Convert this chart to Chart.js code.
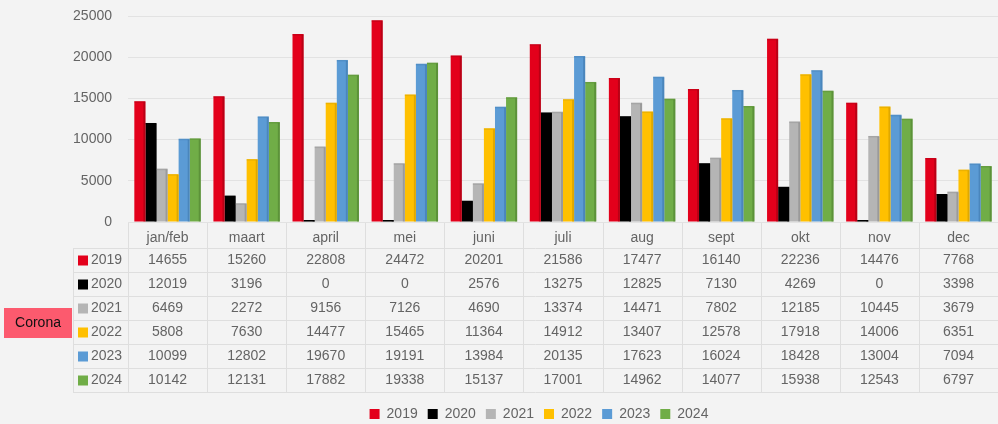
<!DOCTYPE html>
<html>
<head>
<meta charset="utf-8">
<script src="https://cdn.jsdelivr.net/npm/chart.js@4.4.1/dist/chart.umd.min.js"></script>
<style>
  html, body { margin: 0; padding: 0; background: #f3f3f3; }
  #wrap { width: 998px; height: 424px; }
</style>
</head>
<body>
<div id="wrap"><canvas id="c" width="998" height="424"></canvas></div>
<script>
const categories = ['jan/feb', 'maart', 'april', 'mei', 'juni', 'juli', 'aug', 'sept', 'okt', 'nov', 'dec'];
const years = ['2019', '2020', '2021', '2022', '2023', '2024'];
const v2019 = [14655, 15260, 22808, 24472, 20201, 21586, 17477, 16140, 22236, 14476, 7768];
const v2020 = [12019, 3196, 0, 0, 2576, 13275, 12825, 7130, 4269, 0, 3398];
const v2021 = [6469, 2272, 9156, 7126, 4690, 13374, 14471, 7802, 12185, 10445, 3679];
const v2022 = [5808, 7630, 14477, 15465, 11364, 14912, 13407, 12578, 17918, 14006, 6351];
const v2023 = [10099, 12802, 19670, 19191, 13984, 20135, 17623, 16024, 18428, 13004, 7094];
const v2024 = [10142, 12131, 17882, 19338, 15137, 17001, 14962, 14077, 15938, 12543, 6797];
const seriesValues = [v2019, v2020, v2021, v2022, v2023, v2024];
const colors = ['#e3001b', '#000000', '#b5b5b5', '#ffc000', '#5b9bd5', '#70ad47'];
const sideColors = ['#9e0013', '#000000', '#888888', '#c99700', '#3f78ab', '#4f8030'];
const noteLabel = 'Corona';
const yMax = 25000, yStep = 5000;

const FONT = '"Liberation Sans", Arial, sans-serif';
const TEXT = '#646464';

const bgPlugin = {
  id: 'bg',
  beforeDraw(chart) {
    const ctx = chart.ctx;
    ctx.save();
    ctx.fillStyle = '#f3f3f3';
    ctx.fillRect(0, 0, chart.width, chart.height);
    ctx.restore();
  }
};

const legendShift = {
  id: 'legendShift',
  afterLayout(chart) {
    const lg = chart.legend;
    if (!lg) return;
    lg.left += 40; lg.right += 40;
    lg.top += 9; lg.bottom += 9;
  }
};

const shadePlugin = {
  id: 'shade',
  afterDatasetsDraw(chart) {
    const ctx = chart.ctx;
    ctx.save();
    chart.data.datasets.forEach((ds, di) => {
      const meta = chart.getDatasetMeta(di);
      meta.data.forEach(bar => {
        const w = bar.width;
        const right = bar.x + w / 2;
        const h = bar.base - bar.y;
        if (h <= 0) return;
        ctx.fillStyle = sideColors[di];
        ctx.globalAlpha = 0.6;
        ctx.fillRect(right - 2, bar.y + 1, 2, h - 1);
        ctx.globalAlpha = 0.35;
        ctx.fillRect(bar.x - w / 2, bar.y, w, 1.5);
        ctx.globalAlpha = 1;
      });
    });
    ctx.restore();
  }
};

const tablePlugin = {
  id: 'dataTable',
  afterDraw(chart) {
    const ctx = chart.ctx;
    const x = chart.scales.x;
    const area = chart.chartArea;
    const n = categories.length;
    const cw = (area.right - area.left) / n;
    const top = area.bottom + 1;
    const headH = 25, rowH = 24;
    const tableTop = top + headH;
    const tableBottom = tableTop + rowH * years.length;
    const labelLeft = 73;
    ctx.save();
    ctx.strokeStyle = '#dedede';
    ctx.lineWidth = 1;
    for (let i = 0; i <= n; i++) {
      const xx = Math.round(area.left + i * cw) + 0.5;
      ctx.beginPath();
      ctx.moveTo(xx, top);
      ctx.lineTo(xx, tableBottom);
      ctx.stroke();
    }
    ctx.beginPath();
    ctx.moveTo(labelLeft + 0.5, tableTop);
    ctx.lineTo(labelLeft + 0.5, tableBottom);
    ctx.stroke();
    for (let r = 0; r <= years.length; r++) {
      const yy = Math.round(tableTop + r * rowH) + 0.5;
      ctx.beginPath();
      ctx.moveTo(labelLeft, yy);
      ctx.lineTo(area.right, yy);
      ctx.stroke();
    }
    ctx.font = '14px ' + FONT;
    ctx.textBaseline = 'middle';
    years.forEach((yr, r) => {
      const cy = tableTop + r * rowH + rowH / 2 + 0.5;
      ctx.fillStyle = colors[r];
      ctx.fillRect(labelLeft + 5, cy - 5, 10, 10);
      ctx.fillStyle = TEXT;
      ctx.textAlign = 'left';
      ctx.fillText(yr, labelLeft + 18, cy);
      ctx.textAlign = 'center';
      seriesValues[r].forEach((v, i) => {
        ctx.fillText(String(v), x.getPixelForValue(i), cy);
      });
    });
    const ny = tableTop + 60;
    ctx.fillStyle = '#fc5a6e';
    ctx.fillRect(4, ny, 68, 30);
    ctx.fillStyle = '#111111';
    ctx.textAlign = 'center';
    ctx.fillText(noteLabel, 38, ny + 15.5);
    ctx.restore();
  }
};

new Chart(document.getElementById('c'), {
  type: 'bar',
  data: {
    labels: categories,
    datasets: years.map((yr, i) => ({
      label: yr,
      data: seriesValues[i],
      backgroundColor: colors[i],
      borderWidth: 0,
      minBarLength: 2,
      categoryPercentage: 0.84,
      barPercentage: 1.0
    }))
  },
  options: {
    responsive: false,
    devicePixelRatio: 1,
    animation: false,
    layout: { padding: { left: 0, right: 0, top: 16, bottom: 2 } },
    plugins: {
      tooltip: { enabled: false },
      legend: {
        position: 'bottom',
        labels: {
          boxWidth: 10,
          boxHeight: 10,
          padding: 10,
          color: TEXT,
          font: { family: FONT, size: 14 }
        }
      }
    },
    scales: {
      x: {
        grid: { display: false },
        border: { display: false },
        ticks: { color: TEXT, font: { family: FONT, size: 14 }, padding: 0, maxRotation: 0 },
        afterFit(scale) { scale.height = 166; }
      },
      y: {
        min: 0,
        max: yMax,
        ticks: {
          stepSize: yStep, color: TEXT, font: { family: FONT, size: 14 }, padding: 2,
          callback: (v) => String(v)
        },
        grid: { color: '#e2e2e2', drawTicks: true, tickLength: 14, tickColor: 'rgba(0,0,0,0)' },
        border: { display: false },
        afterFit(scale) { scale.width = 128; }
      }
    }
  },
  plugins: [bgPlugin, legendShift, shadePlugin, tablePlugin]
});
</script>
</body>
</html>
